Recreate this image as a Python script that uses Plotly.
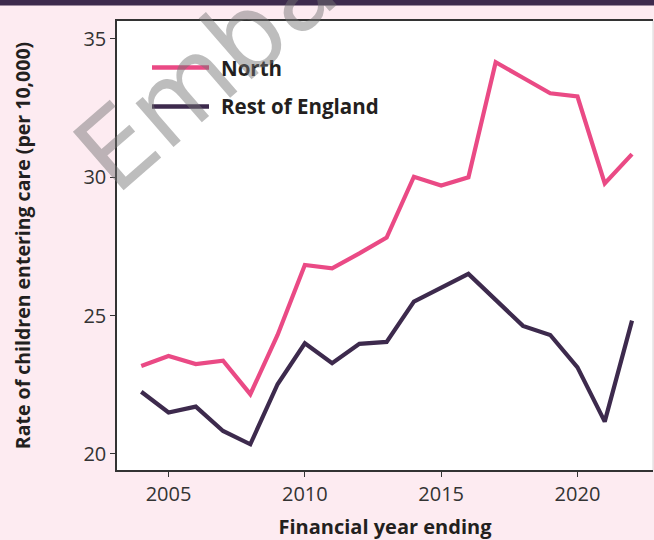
import plotly.graph_objects as go

years = list(range(2004, 2023))
north = [23.18, 23.54, 23.25, 23.37, 22.16, 24.3, 26.83, 26.71, 27.25, 27.82,
         30.02, 29.70, 30.0, 34.16, 33.6, 33.04, 32.92, 29.78, 30.84]
rest_of_england = [22.25, 21.5, 21.71, 20.83, 20.35, 22.52, 24.0, 23.28, 23.98, 24.05,
                   25.51, 26.0, 26.51, 25.57, 24.63, 24.3, 23.13, 21.17, 24.82]
series_names = ["North", "Rest of England"]
x_ticks = [2005, 2010, 2015, 2020]
y_ticks = [20, 25, 30, 35]

PINK = "#ea4a85"
DARK = "#3d2a4d"
TEXT = "#231f20"
BG = "#fdebf1"

fig = go.Figure()
fig.add_trace(go.Scatter(x=years, y=north, mode="lines", name=series_names[0],
                         line=dict(color=PINK, width=4.2), showlegend=False))
fig.add_trace(go.Scatter(x=years, y=rest_of_england, mode="lines", name=series_names[1],
                         line=dict(color=DARK, width=4.2), showlegend=False))

L, R, T, B = 117, 1, 21, 70
W, H = 654, 540
pw, ph = W - L - R, H - T - B

def px(xp):
    return (xp - L) / pw

def py(yp):
    return (H - B - yp) / ph

shapes = [
    dict(type="rect", xref="paper", yref="paper", x0=-0.3, x1=1.1,
         y0=py(5.5), y1=1.2, fillcolor=DARK, line=dict(width=0), layer="above"),
    dict(type="line", xref="paper", yref="paper", x0=1, x1=1, y0=0, y1=1,
         line=dict(color="#d8d8d8", width=1)),
    dict(type="line", xref="paper", yref="paper", x0=px(152), x1=px(209),
         y0=py(67.5), y1=py(67.5), line=dict(color=PINK, width=4.5)),
    dict(type="line", xref="paper", yref="paper", x0=px(152), x1=px(209),
         y0=py(106.5), y1=py(106.5), line=dict(color=DARK, width=4.5)),
]

annotations = [
    dict(xref="paper", yref="paper", x=px(219), y=py(67.5), text="<b>" + series_names[0] + "</b>",
         showarrow=False, xanchor="left", yanchor="middle",
         font=dict(family="Open Sans", size=20.5, color=TEXT)),
    dict(xref="paper", yref="paper", x=px(219), y=py(106.5), text="<b>" + series_names[1] + "</b>",
         showarrow=False, xanchor="left", yanchor="middle",
         font=dict(family="Open Sans", size=20.5, color=TEXT)),
    dict(xref="paper", yref="paper", x=px(271), y=py(13), text="Embargo",
         showarrow=False, xanchor="center", yanchor="middle", textangle=-41,
         font=dict(family="DejaVu Sans", size=106, color="rgba(115,115,115,0.47)")),
]

fig.update_layout(
    width=W, height=H,
    margin=dict(l=L, r=R, t=T, b=B, pad=0),
    paper_bgcolor=BG, plot_bgcolor="white",
    font=dict(family="Open Sans", color=TEXT),
    shapes=shapes, annotations=annotations,
    xaxis=dict(range=[2003.11, 2022.77], tickvals=x_ticks, ticks="outside", ticklen=5,
               tickwidth=1.2, tickcolor="#333", showgrid=False, zeroline=False,
               showline=True, linecolor="#333", linewidth=1.5, mirror=True,
               tickfont=dict(size=20, color="#333"),
               title=dict(text="<b>Financial year ending</b>", standoff=15,
                          font=dict(size=20, color=TEXT))),
    yaxis=dict(range=[19.42, 35.65], tickvals=y_ticks, ticks="outside", ticklen=5,
               tickwidth=1.2, tickcolor="#333", showgrid=False, zeroline=False,
               showline=True, linecolor="#333", linewidth=1.5, mirror=False,
               tickfont=dict(size=20, color="#333"),
               title=dict(text="<b>Rate of children entering care (per 10,000)</b>", standoff=48,
                          font=dict(size=19.5, color=TEXT))),
)

fig.write_html("out.html", config={"displayModeBar": False},
               post_script="document.body.style.margin='0';document.body.style.background='%s';" % BG)
